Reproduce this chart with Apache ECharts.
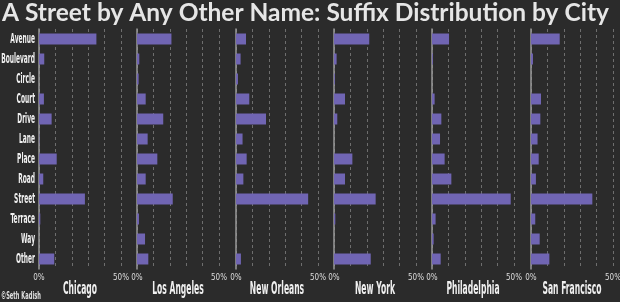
<!DOCTYPE html>
<html><head><meta charset="utf-8">
<script src="https://cdn.jsdelivr.net/npm/echarts@6/dist/echarts.min.js"></script>
<style>html,body{margin:0;padding:0;background:#2b2b2b}#c{width:620px;height:302px}</style>
</head><body><div id="c"></div>
<script>
const categories = ['Avenue','Boulevard','Circle','Court','Drive','Lane','Place','Road','Street','Terrace','Way','Other'];
const cities = ['Chicago','Los Angeles','New Orleans','New York','Philadelphia','San Francisco'];
const chicago      = [35.0, 3.2, 0.0, 3.0, 7.7, 0.2, 10.8, 2.6, 28.0, 0.8, 0.0, 9.3];
const losAngeles   = [21.0, 1.4, 1.0, 5.3, 16.0, 6.5, 12.4, 5.3, 21.8, 1.2, 4.9, 6.9];
const newOrleans   = [6.1, 2.8, 1.2, 8.1, 18.3, 4.0, 6.5, 4.5, 44.0, 0.0, 0.0, 3.0];
const newYork      = [21.5, 1.6, 0.5, 6.7, 2.0, 0.0, 11.2, 6.7, 25.4, 0.8, 0.0, 22.4];
const philadelphia = [10.4, 0.5, 0.0, 1.6, 5.7, 4.9, 7.7, 11.8, 48.0, 2.2, 1.0, 5.3];
const sanFrancisco = [17.5, 1.2, 0.0, 6.1, 5.7, 4.0, 4.7, 3.0, 37.4, 2.6, 5.3, 11.2];
const seriesValues = [chicago, losAngeles, newOrleans, newYork, philadelphia, sanFrancisco];
const xTickLabels = {0: '0%', 50: '50%'};

const narrow = '"DejaVu Sans Condensed","DejaVu Sans",sans-serif';
const lefts = [39, 137, 236, 334, 432, 531];
const grid = [], xAxis = [], yAxis = [], series = [];
cities.forEach((city, i) => {
  grid.push({left: lefts[i], width: 82, top: 29, height: 240, containLabel: false, outerBoundsMode: 'none'});
  xAxis.push({
    type: 'value', gridIndex: i, min: 0, max: 50, interval: 10,
    axisLine: {show: false}, axisTick: {show: false},
    splitLine: {show: true, lineStyle: {color: '#6e6e6e', type: [3, 3], width: 1}},
    axisLabel: {color: '#dddddd', fontSize: 8, fontFamily: narrow, margin: 5,
      formatter: v => xTickLabels[v] || ''}
  });
  yAxis.push({
    type: 'category', gridIndex: i, data: categories, inverse: true,
    axisLine: {show: true, lineStyle: {color: '#9a9a9a', width: 1.5}},
    axisTick: {show: false}, splitLine: {show: false},
    axisLabel: {show: false}
  });
  series.push({
    type: 'bar', xAxisIndex: i, yAxisIndex: i, data: seriesValues[i],
    barWidth: 11, itemStyle: {color: '#7065b3'}, silent: true
  });
});

const chart = echarts.init(document.getElementById('c'), null, {renderer: 'canvas'});
chart.setOption({
  backgroundColor: '#2b2b2b',
  animation: false,
  title: {text: 'A Street by Any Other Name: Suffix Distribution by City', left: 2, top: 0, padding: [1, 0, 0, 0],
    textStyle: {color: '#e6e6e6', fontSize: 24.5, fontWeight: 'bold', fontFamily: 'Lato, "Open Sans", sans-serif'}},
  grid, xAxis, yAxis, series
});

// condensed text labels placed through the chart's own scales
const g = [];
categories.forEach(cat => {
  const y = chart.convertToPixel({yAxisIndex: 0}, cat);
  g.push({type: 'text', x: 35, y: y, scaleX: 0.47, silent: true,
    style: {text: cat, fill: '#f0f0f0', fontSize: 14, fontWeight: 'bold', fontFamily: narrow, align: 'right', verticalAlign: 'middle'}});
});
cities.forEach((city, i) => {
  const x = chart.convertToPixel({xAxisIndex: i}, 25);
  g.push({type: 'text', x: x, y: 289, scaleX: 0.47, silent: true,
    style: {text: city, fill: '#f0f0f0', fontSize: 18, fontWeight: 'bold', fontFamily: narrow, align: 'center', verticalAlign: 'middle'}});
});
g.push({type: 'text', x: 1, y: 296, scaleX: 0.52, silent: true,
  style: {text: '©Seth Kadish', fill: '#e0e0e0', fontSize: 11, fontWeight: 'bold', fontFamily: narrow, align: 'left', verticalAlign: 'middle'}});
chart.setOption({graphic: g});
</script></body></html>
